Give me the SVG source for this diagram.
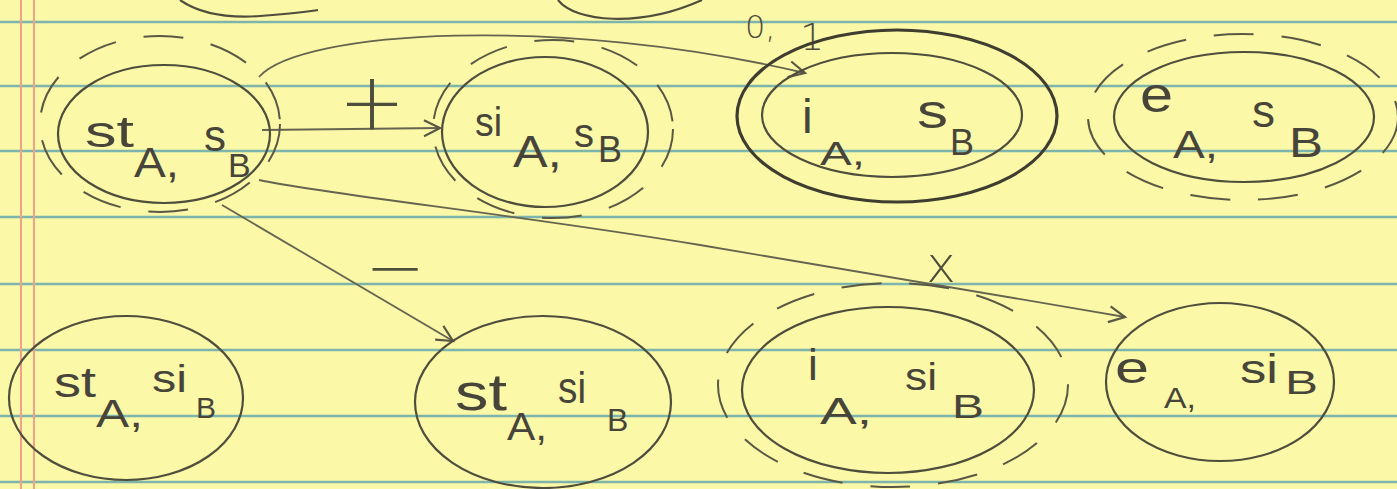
<svg xmlns="http://www.w3.org/2000/svg" width="1397" height="489" viewBox="0 0 1397 489">
<style>
.paper{fill:#fbf8a8}
.rule{stroke:#7db5ad;stroke-width:2.5}
.margin{stroke:#f2a08a;stroke-width:2}
.ring{fill:none;stroke:#4f4d3c;stroke-width:2.2}
.thick{fill:none;stroke:#3f3d2f;stroke-width:3.2}
.dash{fill:none;stroke:#5a5844;stroke-width:2;stroke-dasharray:40 28}
.edge{fill:none;stroke:#66644f;stroke-width:1.8}
.t{font-family:"Liberation Sans","DejaVu Sans",sans-serif;fill:#47453a}
.lbl{font-family:"DejaVu Sans","Liberation Sans",sans-serif;font-weight:200;fill:#4f4d3c}
</style>
<defs>
<marker id="arr" markerUnits="userSpaceOnUse" markerWidth="24" markerHeight="24" refX="18" refY="10" orient="auto">
<path d="M2,2 L18,10 L2,18" fill="none" stroke="#5a5844" stroke-width="2.2"/>
</marker>
</defs>
<rect class="paper" x="0" y="0" width="1397" height="489"/>
<g id="paper-lines">
<line class="rule" x1="0" y1="22" x2="1397" y2="22"/>
<line class="rule" x1="0" y1="86" x2="1397" y2="86"/>
<line class="rule" x1="0" y1="151" x2="1397" y2="151"/>
<line class="rule" x1="0" y1="217" x2="1397" y2="217"/>
<line class="rule" x1="0" y1="284" x2="1397" y2="284"/>
<line class="rule" x1="0" y1="350" x2="1397" y2="350"/>
<line class="rule" x1="0" y1="416" x2="1397" y2="416"/>
<line class="rule" x1="0" y1="482" x2="1397" y2="482"/>
<line class="margin" x1="21" y1="0" x2="21" y2="489"/>
<line class="margin" x1="34" y1="0" x2="34" y2="489"/>
</g>
<g id="top-fragments">
<path class="ring" d="M180 0 C200 14 230 18 260 16 C285 14 305 12 318 10"/>
<path class="ring" d="M558 0 C575 22 640 28 702 0"/>
</g>
<g id="connectors">
<path class="edge" d="M262 130 L440 128" marker-end="url(#arr)"/>
<path class="edge" d="M259 77 C300 30 560 15 805 73" marker-end="url(#arr)"/>
<path class="edge" d="M259 180 C330 195 520 215 700 245 C880 275 1000 295 1125 317" marker-end="url(#arr)"/>
<path class="edge" d="M222 205 Q330 268 453 341" marker-end="url(#arr)"/>
<text class="lbl" x="372" y="130" font-size="80" text-anchor="middle">+</text>
<text class="lbl" x="745" y="38" font-size="32">0,</text>
<text class="lbl" x="800" y="50" font-size="38">1</text>
<text class="lbl" x="941" y="282" font-size="50" text-anchor="middle">x</text>
<text class="lbl" x="395" y="292" font-size="72" text-anchor="middle">−</text>
</g>
<g id="n-stA-sB">
<ellipse class="dash" cx="160" cy="124" rx="120" ry="88"/>
<ellipse class="ring" cx="164" cy="134" rx="106" ry="69"/>
<text class="t" x="85" y="147" font-size="44" textLength="49" lengthAdjust="spacingAndGlyphs">st</text>
<text class="t" x="134" y="177" font-size="42" textLength="45" lengthAdjust="spacingAndGlyphs">A,</text>
<text class="t" x="204" y="151" font-size="44">s</text>
<text class="t" x="228" y="177" font-size="34">B</text>
</g>
<g id="n-siA-sB">
<ellipse class="dash" cx="553" cy="129" rx="120" ry="89"/>
<ellipse class="ring" cx="545" cy="132" rx="103" ry="75"/>
<text class="t" x="475" y="136" font-size="40" textLength="27" lengthAdjust="spacingAndGlyphs">si</text>
<text class="t" x="513" y="167" font-size="44" textLength="49" lengthAdjust="spacingAndGlyphs">A,</text>
<text class="t" x="574" y="147" font-size="40">s</text>
<text class="t" x="598" y="162" font-size="36">B</text>
</g>
<g id="n-iA-sB">
<ellipse class="thick" cx="897" cy="116" rx="160" ry="86"/>
<ellipse class="ring" cx="892" cy="115" rx="130" ry="62"/>
<text class="t" x="802" y="133" font-size="48">i</text>
<text class="t" x="820" y="165" font-size="34" textLength="45" lengthAdjust="spacingAndGlyphs">A,</text>
<text class="t" x="917" y="128" font-size="48" textLength="31" lengthAdjust="spacingAndGlyphs">s</text>
<text class="t" x="950" y="155" font-size="36">B</text>
</g>
<g id="n-eA-sB">
<ellipse class="dash" cx="1243" cy="117" rx="155" ry="83"/>
<ellipse class="ring" cx="1244" cy="117" rx="130" ry="65"/>
<text class="t" x="1140" y="112" font-size="50" textLength="33" lengthAdjust="spacingAndGlyphs">e</text>
<text class="t" x="1173" y="158" font-size="38" textLength="45" lengthAdjust="spacingAndGlyphs">A,</text>
<text class="t" x="1252" y="127" font-size="46">s</text>
<text class="t" x="1289" y="157" font-size="42" textLength="34" lengthAdjust="spacingAndGlyphs">B</text>
</g>
<g id="n-stA-siB-left">
<ellipse class="ring" cx="126" cy="398" rx="117" ry="82"/>
<text class="t" x="54" y="397" font-size="42" textLength="42" lengthAdjust="spacingAndGlyphs">st</text>
<text class="t" x="96" y="427" font-size="38" textLength="47" lengthAdjust="spacingAndGlyphs">A,</text>
<text class="t" x="152" y="392" font-size="38" textLength="35" lengthAdjust="spacingAndGlyphs">si</text>
<text class="t" x="196" y="418" font-size="30">B</text>
</g>
<g id="n-stA-siB">
<ellipse class="ring" cx="543" cy="402" rx="128" ry="86"/>
<text class="t" x="455" y="410" font-size="52" textLength="52" lengthAdjust="spacingAndGlyphs">st</text>
<text class="t" x="507" y="440" font-size="38" textLength="40" lengthAdjust="spacingAndGlyphs">A,</text>
<text class="t" x="558" y="403" font-size="44" textLength="28" lengthAdjust="spacingAndGlyphs">si</text>
<text class="t" x="607" y="431" font-size="32">B</text>
</g>
<g id="n-iA-siB">
<ellipse class="dash" cx="893" cy="385" rx="175" ry="102"/>
<ellipse class="ring" cx="888" cy="390" rx="146" ry="83"/>
<text class="t" x="808" y="380" font-size="44">i</text>
<text class="t" x="820" y="424" font-size="36" textLength="52" lengthAdjust="spacingAndGlyphs">A,</text>
<text class="t" x="905" y="390" font-size="38" textLength="32" lengthAdjust="spacingAndGlyphs">si</text>
<text class="t" x="952" y="418" font-size="34" textLength="32" lengthAdjust="spacingAndGlyphs">B</text>
</g>
<g id="n-eA-siB">
<ellipse class="ring" cx="1220" cy="382" rx="114" ry="79"/>
<text class="t" x="1115" y="383" font-size="44" textLength="34" lengthAdjust="spacingAndGlyphs">e</text>
<text class="t" x="1164" y="408" font-size="30" textLength="32" lengthAdjust="spacingAndGlyphs">A,</text>
<text class="t" x="1240" y="383" font-size="40" textLength="38" lengthAdjust="spacingAndGlyphs">si</text>
<text class="t" x="1285" y="394" font-size="34" textLength="33" lengthAdjust="spacingAndGlyphs">B</text>
</g>
</svg>
